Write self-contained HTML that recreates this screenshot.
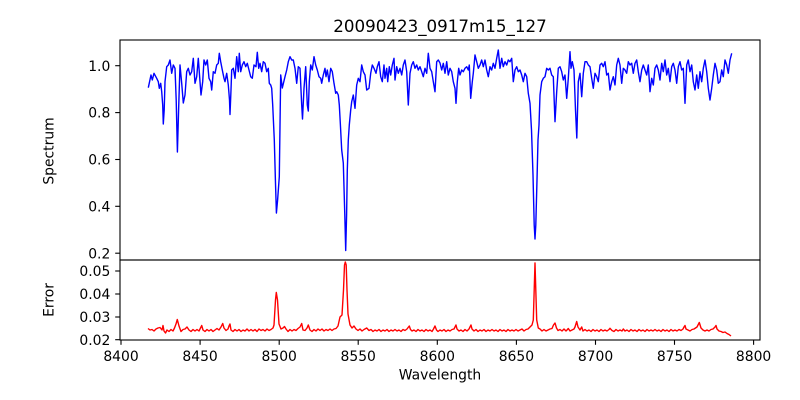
<!DOCTYPE html>
<html><head><meta charset="utf-8"><style>
html,body{margin:0;padding:0;background:#fff;}
svg{display:block;}
text{font-family:"DejaVu Sans","Liberation Sans",sans-serif;fill:#000;}
</style></head><body>
<svg width="800" height="400" viewBox="0 0 800 400" xmlns="http://www.w3.org/2000/svg">
<rect x="0" y="0" width="800" height="400" fill="#fff"/>
<polyline fill="none" stroke="#0000ff" stroke-width="1.4" stroke-linejoin="round" points="148.3,87.7 151,75 152.3,80 154,73.3 156.7,78.3 158.3,81.7 159.3,88.3 160.7,83.3 161.7,91.7 162.7,105 163.3,124 164.2,110 165,81.7 166.7,66.7 168.3,65 170,60 171.7,73.3 173.3,65 175,68.3 176.2,100 177.4,152 178.6,110 180,65 181.7,83.3 183.3,103 185,95 186.7,71.7 188.3,68.3 190,75 191.7,71.7 193.3,58.3 195,83.3 196.7,76.7 198.3,58.3 200,81.7 201,95 202.7,81.7 204,60 205.7,65 207.3,60 209,78.3 210.7,81.7 211.7,90 213.3,71.7 215,73.3 216.7,65 218.3,63.3 219.3,53.3 220.7,61.7 222.3,70 224,78.3 225,81.7 226.7,73.3 228.3,85 229.5,100 230,114.5 231,90 231.7,70 233.3,68.3 235,78.3 236.7,56.7 238.3,71.7 239.3,53.3 240.7,71.7 242.3,65 244,61.7 245.7,66.7 247.3,63.3 249,70 250.7,76.7 252.3,78.3 254,65 256,66.7 257.3,52.3 258.7,68.3 260,63.3 261.7,71.7 263.3,61.7 265,63.3 266.7,71.7 268.3,68.3 269.3,83.3 270.7,85 271.7,88.3 272.7,105 274.3,140 275.4,180 276.4,213 277.6,200 279.3,176.7 280.7,75 282.3,88 285,76.7 286.7,70 288.3,61.7 290,56.7 291.7,60 293.3,60 295,68.3 296.7,83.3 298.3,66.7 300,68.3 301.7,105 302.5,119 304,88.3 305.7,66.7 307.3,105 308.3,111 309.3,81.7 310.7,65 312.3,70 314,56.7 315.7,65 317.3,70 319,76.7 320.7,78.3 321.7,83.3 323.3,75 325,68.3 326,76.7 327.3,70 329,81.7 330.7,68.3 332.3,71.7 334,83.3 335.7,93.3 336.7,91.7 338.3,95 339.3,105 340.3,123 341.7,150 343.3,163 344.8,215 345.7,250.5 346.6,215 347.3,170 348.3,140 349.3,125 350.7,110 351.7,101.7 353.3,95 355,108.3 356.7,85 358.3,78.3 360,81.7 361.7,65 363.3,71.7 365,75 366.7,90 369,88.3 370.7,73.3 372.3,65 374,68.3 376,73.3 377.3,66.7 379,61.7 380.7,76.7 382.3,81.7 384,65 385,78.3 386.7,68.3 387.7,81.7 389.3,66.7 390.7,75 392.3,65 394,58.3 395,80 396.7,66.7 398.3,73.3 400,68.3 401.7,75 403.3,65 405,60 406.7,71.7 408.3,105 410,73.3 411.7,65 413.3,61.7 415,68.3 416.7,65 418.3,70 420,66.7 421.7,71.7 423.3,76.7 425,68.3 426.7,73.3 428.3,53.3 430,68.3 431.7,71.7 433.3,81.7 435,91.7 436.7,61.7 438.3,60 440,63 441.7,70 443.3,63.3 445,73.3 446.7,61.7 448.3,75 450,68.3 451.7,71.7 453.3,81.7 455,88.3 456,103.3 457.3,81.7 458.7,68.3 460,75 461.7,70 463.3,71.7 465,68.3 466.7,66.7 468.3,70 469.3,65 470.7,98.3 472.3,81.7 473.3,73.3 475,55 476.7,61.7 478.3,68.3 480,65 481.7,60 483.3,66.7 485,60 486.7,70 488.3,76.7 490,66.7 491.7,70 493.3,63.3 495,68.3 496.7,58.3 498.3,50 500,68.3 501.7,58.3 503.3,66.7 505,61.7 506.7,65 508.3,60 510,61.7 511.7,58.3 513.3,81.7 515,70 516.7,66.7 518.3,71.7 520,70 521.7,75 523.3,81.7 525,73.3 526.7,76.7 528.3,93.3 530,103.3 531.5,130 533,175 534.2,225 535,239 535.8,225 537,180 538,140 539,125 540,95 541.7,81.7 543.3,78.3 545,76.7 546.7,68.3 548.3,70 550,68.3 551.7,75 553.3,76.7 555,121.7 556.7,91.7 558.3,68.3 560,66.7 561.7,71.7 563.3,80 565,75 566.7,98.3 568.3,78.3 570,51.7 571,68.3 572.3,61.7 574,70 575.5,110 576.8,138 578.3,81.7 580,73.3 581.7,96.7 583.3,73.3 585,61.7 586.7,61.7 588.3,65 590,66.7 591.7,78.3 593.3,88.3 595,73.3 596.7,76.7 598.3,81.7 600,65 601.7,63.3 603.3,66.7 605,61.7 606.7,75 608.3,73.3 610,90 611.7,81.7 613.3,76.7 615,85 616.7,65 618.3,58.3 620,65 621.7,83.3 623.3,68.3 625,70 626.7,73.3 628.3,61.7 630,65 631.7,63.3 633.3,73.3 635,63.3 636.7,60 638.3,71.7 640,81.7 641.7,70 643.3,65 645,70 646.7,75 648.3,65 650,91.7 651.7,78.3 653.3,85 655,68.3 656.7,65 658.3,70 660,80 661.7,63.3 663.3,71.7 665,60 666.7,75 668.3,68.3 670,81.7 671.7,66.7 673.3,63.3 675,70 676.7,83.3 678.3,66.7 680,61.7 681.7,70 683.3,68.3 685,103.3 686.7,65 688.3,60 690,71.7 691.7,65 693.3,81.7 695,90 696.7,75 698.3,88.3 700,71.7 701.7,81.7 703.3,68.3 705,60 706.7,71.7 708.3,88.3 710,100 711.7,88.3 713.3,75 715,63.3 716.7,70 718.3,83.3 720,81.7 721.7,70 723.3,76.7 725,60 726.7,65 728.3,73.3 730,60 731.7,53.3"/>
<polyline fill="none" stroke="#ff0000" stroke-width="1.4" stroke-linejoin="round" points="148,328.5 150,330 152,329.5 154,331 156,329 158,328 160,327.5 162,330 163,325.5 164,331 165.5,333 167,330 169,331.5 171,329.5 173,331 174.5,328 176,324 177.3,319.5 179,326 181,331.5 183,329.5 185,329 187,327 189,330 191,331.5 193,329.5 195,331 197,329.5 199,331 200.5,328 201.7,325.5 203,330 205,331.5 207,329.5 209,331 211,329.5 213,331.5 215,330 217,328.5 219,330 221,327 222.7,323.5 224,328 226,330.5 228,329 229,326 230,324 231,330 233,331.5 235,329.5 237,331 239,329.5 241,331.5 243,330 245,331 247,329 249,331 251,329.5 253,331 255,329.5 257,331.5 259,329 261,330.5 263,329.5 265,331 267,329 269,330.5 271,329.5 273,328 274,325 275.5,300 276.3,292.5 277.5,300 279,324 281,329 283,328 284.5,326.5 286,329 288,331.5 290,329.5 292,331 294,329.5 296,330.5 298,328.5 300,327 301.7,323.5 303,330 305,330.5 307,328 308.3,325 310,330 312,331.5 314,329.5 316,331 318,329 320,330.5 322,329 324,331 326,329.5 328,330.5 330,329 332,330.5 334,329 336,328.5 338,326 340,317 342,315 343.5,290 344.5,265 345.3,262 346.2,265 347,290 348,314 350,325 352,328 354,326 356,329 358,330.5 360,329 362,331 364,329.5 366.7,328 369,330.5 371,329.5 373,331.5 375,330 377,331 379,329.5 381,331.5 383,330 385,331 387,329.5 389,331.5 391,330 393,331 395,329.5 397,331 399,330 401,331.5 403,329.5 405,330.5 407,329 408.5,327 409.3,326 410.5,329.5 412,331 414,330 416,331.5 418,329.5 420,331 422,330 424,331.5 426,329.5 428,331 430,330 432,331.5 433.5,329 435,326 436.5,330 438,331.5 440,330 442,331 444,329.5 446,331.5 448,330 450,331 452,329.5 454,329 455,327 456,325 457,329 459,331 461,330 463,331.5 465,329.5 467,331 469,329 470,327 471,325 472,329 474,331 476,329.5 478,331.5 480,330 482,331 484,329.5 486,331.5 488,330 490,331 492,329.5 494,331 496,330 498,331.5 500,329.5 502,331 504,330 506,331.5 508,329.5 510,331 512,330 514,331 516,329.5 518,331 520,330 522,329 524,331 526,329.5 528,329 530,327 532,325 533.3,320 534.2,290 535,263 535.8,290 536.7,320 538.3,328 540,329 542,331 544,329.5 546,331 548,330 550,329 552,328.5 553.5,325 555,323 556.5,328 558,330.5 560,329.5 562,331 564,329 566,331 567,330 568.3,328.5 570,331 572,330 574,329 575,327 576.7,321.5 578,327 580,330 581.7,327 583,331 585,329.5 587,331 589,330 591,331.5 593,329.5 595,331 597,330 599,331.5 601,329.5 603,331 605,330 607,331 609,329.5 610,328.3 612,330.5 614,331.5 616,329.5 618,331 620,330 622,331 623.3,329 625,331 627,330 629,331.5 631,329.5 633,331 635,330 637,331.5 639,329.5 641,331 643,330 645,331.5 647,329.5 649,331 651,330 653,331 655,329.5 657,331 659,330 661,331.5 663,329.5 665,331 667,330 669,331.5 671,329.5 673,331 675,330 677,331 679,329.5 681,330.5 683,329 684,327 685,325.5 686,329 688,330 690,331 692,329.5 694,329 697,327 699.3,322.5 701,328 703,330 705,331 707,330 709,331 711,329.5 713,329 715,327 716,325.5 717,329 719,331 721,331.5 723,332.5 725,332 727,333.5 729,334.5 731,336"/>
<rect x="120" y="40" width="640" height="220" fill="none" stroke="#000" stroke-width="1.1"/>
<rect x="120" y="260" width="640" height="80" fill="none" stroke="#000" stroke-width="1.1"/>
<g stroke="#000" stroke-width="1.1">
<line x1="115.2" y1="65.7" x2="120" y2="65.7"/>
<line x1="115.2" y1="112.6" x2="120" y2="112.6"/>
<line x1="115.2" y1="159.5" x2="120" y2="159.5"/>
<line x1="115.2" y1="206.3" x2="120" y2="206.3"/>
<line x1="115.2" y1="253.2" x2="120" y2="253.2"/>
<line x1="115.2" y1="271" x2="120" y2="271"/>
<line x1="115.2" y1="294" x2="120" y2="294"/>
<line x1="115.2" y1="317" x2="120" y2="317"/>
<line x1="115.2" y1="339.7" x2="120" y2="339.7"/>
<line x1="121" y1="340" x2="121" y2="344.8"/>
<line x1="200.1" y1="340" x2="200.1" y2="344.8"/>
<line x1="279.2" y1="340" x2="279.2" y2="344.8"/>
<line x1="358.2" y1="340" x2="358.2" y2="344.8"/>
<line x1="437.3" y1="340" x2="437.3" y2="344.8"/>
<line x1="516.4" y1="340" x2="516.4" y2="344.8"/>
<line x1="595.5" y1="340" x2="595.5" y2="344.8"/>
<line x1="674.5" y1="340" x2="674.5" y2="344.8"/>
<line x1="753.6" y1="340" x2="753.6" y2="344.8"/>
</g>
<g font-size="13.9" text-anchor="end">
<text x="110.3" y="70.8">1.0</text>
<text x="110.3" y="117.7">0.8</text>
<text x="110.3" y="164.6">0.6</text>
<text x="110.3" y="211.4">0.4</text>
<text x="110.3" y="258.3">0.2</text>
<text x="110.3" y="276.1">0.05</text>
<text x="110.3" y="299.1">0.04</text>
<text x="110.3" y="322.1">0.03</text>
<text x="110.3" y="344.8">0.02</text>
</g>
<g font-size="13.9" text-anchor="middle">
<text x="121" y="361">8400</text>
<text x="200.1" y="361">8450</text>
<text x="279.2" y="361">8500</text>
<text x="358.2" y="361">8550</text>
<text x="437.3" y="361">8600</text>
<text x="516.4" y="361">8650</text>
<text x="595.5" y="361">8700</text>
<text x="674.5" y="361">8750</text>
<text x="753.6" y="361">8800</text>
<text x="440" y="379.3">Wavelength</text>
<text transform="translate(53.3,151) rotate(-90)">Spectrum</text>
<text transform="translate(53.3,300) rotate(-90)">Error</text>
</g>
<text x="440" y="31.8" font-size="16.7" text-anchor="middle">20090423_0917m15_127</text>
</svg>
</body></html>
